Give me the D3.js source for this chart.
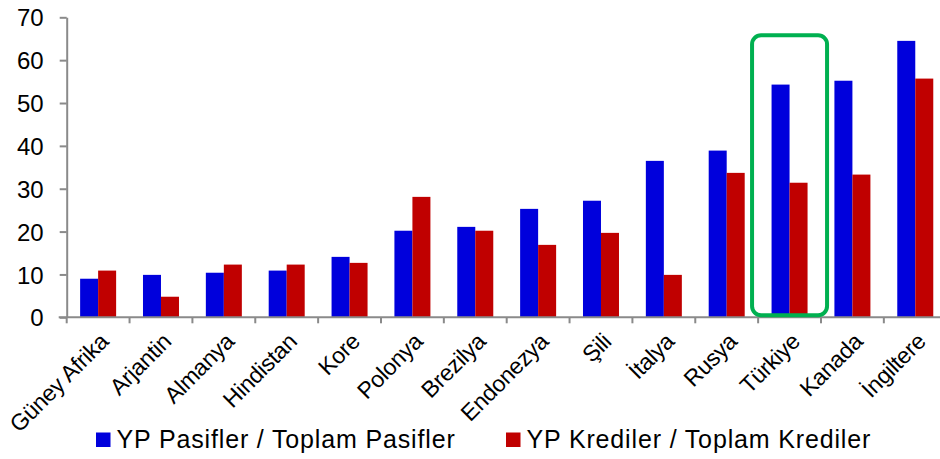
<!DOCTYPE html>
<html>
<head>
<meta charset="utf-8">
<script src="https://cdn.jsdelivr.net/npm/d3@7"></script>
<style>
  html, body { margin: 0; padding: 0; background: #fff; }
  svg { display: block; font-family: "Liberation Sans", Arial, sans-serif; }
</style>
</head>
<body>
<svg id="chart" width="940" height="459"></svg>
<script>
const categories = ["Güney Afrika", "Arjantin", "Almanya", "Hindistan", "Kore", "Polonya", "Brezilya", "Endonezya", "Şili", "İtalya", "Rusya", "Türkiye", "Kanada", "İngiltere"];
const seriesNames = ["YP Pasifler / Toplam Pasifler", "YP Krediler / Toplam Krediler"];
const pasifler = [9.0, 9.9, 10.4, 10.9, 14.1, 20.2, 21.1, 25.3, 27.2, 36.5, 38.9, 54.3, 55.2, 64.5];
const krediler = [10.9, 4.8, 12.3, 12.3, 12.7, 28.1, 20.2, 16.9, 19.7, 9.9, 33.7, 31.4, 33.3, 55.7];
const yTicks = [0, 10, 20, 30, 40, 50, 60, 70];
const highlight = "Türkiye";
const colors = ["#0000dc", "#c00000"];

(function () {
const svg = d3.select("#chart");
const pLeft = 66.7, pRight = 946.7, pTop = 17.3, pBottom = 317.3;
const axisColor = "#8a8a8a";

const pad = 1 - 36 / ((pRight - pLeft) / categories.length);
const x = d3.scaleBand().domain(categories).range([pLeft, pRight])
  .paddingInner(pad).paddingOuter(pad / 2);
const x1 = d3.scaleBand().domain(seriesNames).range([0, x.bandwidth()]);
const y = d3.scaleLinear().domain([0, 70]).range([pBottom, pTop]);

const rows = categories.map((c, i) => ({ c, vals: [pasifler[i], krediler[i]] }));

// bars
const g = svg.append("g");
rows.forEach(r => {
  r.vals.forEach((v, j) => {
    g.append("rect")
      .attr("x", x(r.c) + x1(seriesNames[j]))
      .attr("y", y(v))
      .attr("width", x1.bandwidth())
      .attr("height", y(0) - y(v))
      .attr("fill", colors[j]);
  });
});

// y axis
const yAxis = svg.append("g").attr("transform", `translate(${pLeft},0)`)
  .call(d3.axisLeft(y).tickValues(yTicks).tickSize(7).tickPadding(16).tickSizeOuter(0));
yAxis.attr("font-family", null);
yAxis.select(".domain").attr("stroke", axisColor).attr("stroke-width", 2);
yAxis.selectAll(".tick line").attr("stroke", axisColor).attr("stroke-width", 2);
yAxis.selectAll(".tick text").attr("font-size", 24).attr("fill", "#000").attr("dy", "0.36em");

// x axis line and boundary ticks
const step = x.step();
svg.append("line").attr("x1", pLeft - 8).attr("x2", 940).attr("y1", pBottom).attr("y2", pBottom)
  .attr("stroke", axisColor).attr("stroke-width", 2);
d3.range(categories.length + 1).forEach(i => {
  const bx = pLeft + i * step;
  svg.append("line").attr("x1", bx).attr("x2", bx).attr("y1", pBottom).attr("y2", pBottom + 6)
    .attr("stroke", axisColor).attr("stroke-width", 2);
});

// x labels
categories.forEach(c => {
  const cx = x(c) + x.bandwidth() / 2;
  svg.append("text")
    .attr("transform", `translate(${cx + 6},${pBottom + 20}) rotate(-45)`)
    .attr("text-anchor", "end")
    .attr("dy", "0.35em")
    .attr("font-size", 23)
    .attr("letter-spacing", -0.3)
    .attr("fill", "#000")
    .text(c);
});

// highlight box
const hx = x(highlight) + x.bandwidth() / 2;
svg.append("rect")
  .attr("x", hx - 37.5).attr("y", 35.3)
  .attr("width", 75).attr("height", pBottom - 2 - 35.3)
  .attr("rx", 9).attr("ry", 9)
  .attr("fill", "none").attr("stroke", "#00b050").attr("stroke-width", 4);

// legend
const legendX = [96, 506];
seriesNames.forEach((s, j) => {
  svg.append("rect").attr("x", legendX[j]).attr("y", 432.5).attr("width", 14.5).attr("height", 14.5)
    .attr("fill", colors[j]);
  svg.append("text").attr("x", legendX[j] + 20.5).attr("y", 448.3)
    .attr("font-size", 25).attr("letter-spacing", 0.85).attr("fill", "#000").text(s);
});
})();
</script>
</body>
</html>
